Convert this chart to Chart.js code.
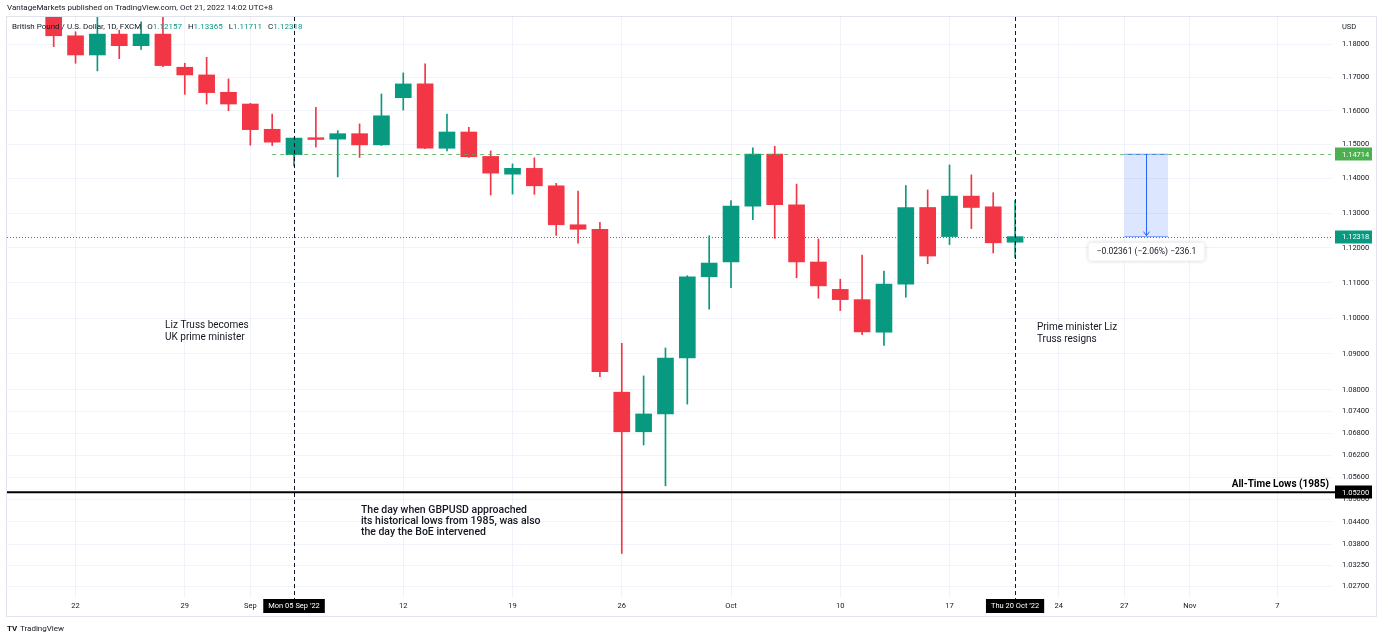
<!DOCTYPE html>
<html>
<head>
<meta charset="utf-8">
<script src="https://cdn.jsdelivr.net/npm/chart.js@4.4.0/dist/chart.umd.min.js"></script>
<style>
  html, body { margin: 0; padding: 0; background: #fff; }
  #wrap { width: 1381px; height: 640px; position: relative; }
</style>
</head>
<body>
<div id="wrap"><canvas id="chart"></canvas></div>
<script>
// GBPUSD 1D, FXCM - one entry per trading day, Aug 19 .. Oct 20 2022
const dates = ['Aug 19','Aug 22','Aug 23','Aug 24','Aug 25','Aug 26','Aug 29','Aug 30','Aug 31','Sep 01',
  'Sep 02','Sep 05','Sep 06','Sep 07','Sep 08','Sep 09','Sep 12','Sep 13','Sep 14','Sep 15',
  'Sep 16','Sep 19','Sep 20','Sep 21','Sep 22','Sep 23','Sep 26','Sep 27','Sep 28','Sep 29',
  'Sep 30','Oct 03','Oct 04','Oct 05','Oct 06','Oct 07','Oct 10','Oct 11','Oct 12','Oct 13',
  'Oct 14','Oct 17','Oct 18','Oct 19','Oct 20'];
const opens = [1.1935,1.1825,1.1767,1.1830,1.1795,1.1830,1.1730,1.1707,1.1655,1.1620,
  1.1545,1.1470,1.1520,1.1516,1.1532,1.1499,1.1639,1.1680,1.1489,1.1537,
  1.1465,1.1413,1.1430,1.1379,1.1266,1.1253,1.0793,1.0684,1.0733,1.0888,
  1.1117,1.1159,1.1320,1.1472,1.1324,1.1159,1.1081,1.1052,1.0960,1.1096,
  1.1316,1.1232,1.1349,1.1318,1.12157];
const highs = [1.1958,1.1837,1.1885,1.1842,1.1867,1.1900,1.1742,1.1760,1.1695,1.1622,
  1.1590,1.1520,1.1610,1.1541,1.1561,1.1650,1.1713,1.1740,1.1590,1.1551,
  1.1481,1.1443,1.1461,1.1386,1.1364,1.1273,1.0929,1.0838,1.0916,1.1120,
  1.1234,1.1336,1.1490,1.1495,1.1384,1.1225,1.1110,1.1179,1.1133,1.1380,
  1.1367,1.1440,1.1411,1.1359,1.13365];
const lows = [1.1792,1.1742,1.1719,1.1756,1.1784,1.1732,1.1649,1.1620,1.1600,1.1498,
  1.1497,1.1437,1.1492,1.1405,1.1462,1.1497,1.1602,1.1488,1.1481,1.1462,
  1.1352,1.1355,1.1354,1.1235,1.1213,1.0836,1.0356,1.0648,1.0537,1.0760,
  1.1025,1.1086,1.1281,1.1227,1.1114,1.1056,1.1021,1.0953,1.0923,1.1059,
  1.1154,1.1209,1.1255,1.1185,1.11711];
const closes = [1.1825,1.1767,1.1830,1.1795,1.1830,1.1735,1.1707,1.1654,1.1620,1.1544,
  1.1507,1.1519,1.1515,1.1532,1.1499,1.1585,1.1680,1.1489,1.1537,1.1464,
  1.1416,1.1430,1.1379,1.1266,1.1253,1.0850,1.0684,1.0733,1.0888,1.1117,
  1.1156,1.1320,1.1472,1.1324,1.1159,1.1091,1.1052,1.0961,1.1096,1.1316,
  1.1176,1.1349,1.1316,1.1214,1.12318];

const priceTicks = [1.027,1.0325,1.038,1.044,1.05,1.056,1.062,1.068,1.074,1.08,
  1.09,1.10,1.11,1.12,1.13,1.14,1.15,1.16,1.17,1.18];
// bar index of each time-axis label (future days continue the count)
const dayTicks = [1,6,9,11,16,21,26,31,36,41,46,49,52,56];
const dayTickLabels = ['22','29','Sep','','12','19','26','Oct','10','17','24','27','Nov','7'];

const lastPrice = 1.12318;
const refPrice = 1.14714;
const lowPrice = 1.052;

const UP = '#089981', DOWN = '#f23645', INK = '#131722';
const FONT = 'Roboto, "Noto Sans", sans-serif';

const colors = closes.map((c, i) => c >= opens[i] ? UP : DOWN);
const bodies = closes.map((c, i) => ({ x: i, y: [opens[i], c] }));
const wicks = closes.map((c, i) => ({ x: i, y: [lows[i], highs[i]] }));

function txt(ctx, s, x, y, font, color, align, base) {
  ctx.font = font;
  ctx.fillStyle = color;
  ctx.textAlign = align || 'left';
  ctx.textBaseline = base || 'middle';
  ctx.fillText(s, x, y);
}

const overlay = {
  id: 'overlay',
  beforeDraw(chart) {
    const ctx = chart.ctx;
    ctx.save();
    ctx.fillStyle = '#fff';
    ctx.fillRect(0, 0, chart.width, chart.height);
    ctx.restore();
  },
  afterDatasetsDraw(chart) {
    const ctx = chart.ctx, x = chart.scales.x, y = chart.scales.y, a = chart.chartArea;
    ctx.save();
    ctx.beginPath();
    ctx.rect(a.left, a.top, a.right - a.left, a.bottom - a.top);
    ctx.clip();

    // horizontal ref line
    let py = Math.round(y.getPixelForValue(refPrice)) + 0.5;
    ctx.strokeStyle = 'rgba(76,175,80,0.8)';
    ctx.lineWidth = 1;
    ctx.setLineDash([4, 4]);
    ctx.beginPath(); ctx.moveTo(x.getPixelForValue(10), py); ctx.lineTo(a.right, py); ctx.stroke();

    // last price line
    py = Math.round(y.getPixelForValue(lastPrice)) + 0.5;
    ctx.strokeStyle = UP;
    ctx.setLineDash([1, 2]);
    ctx.beginPath(); ctx.moveTo(a.left, py); ctx.lineTo(a.right, py); ctx.stroke();

    // measure box
    const x0 = x.getPixelForValue(49), x1 = x.getPixelForValue(51), xm = Math.round(x.getPixelForValue(50)) + 0.5;
    const ya = y.getPixelForValue(refPrice), yb = y.getPixelForValue(lastPrice);
    ctx.setLineDash([]);
    ctx.fillStyle = 'rgba(41,98,255,0.16)';
    ctx.fillRect(x0, ya, x1 - x0, yb - ya);
    ctx.strokeStyle = 'rgba(41,98,255,0.6)';
    ctx.beginPath(); ctx.moveTo(x0, ya); ctx.lineTo(x1, ya); ctx.moveTo(x0, yb); ctx.lineTo(x1, yb); ctx.stroke();
    ctx.strokeStyle = '#2962ff';
    ctx.beginPath(); ctx.moveTo(xm, ya); ctx.lineTo(xm, yb - 1);
    ctx.moveTo(xm - 3, yb - 5); ctx.lineTo(xm, yb - 1); ctx.lineTo(xm + 3, yb - 5); ctx.stroke();

    // notes
    let nx = x.getPixelForValue(5.1), ny = y.getPixelForValue(1.0980);
    txt(ctx, 'Liz Truss becomes', nx, ny, '10px ' + FONT, INK);
    txt(ctx, 'UK prime minister', nx, ny + 12, '10px ' + FONT, INK);
    nx = x.getPixelForValue(45); ny = y.getPixelForValue(1.0974);
    txt(ctx, 'Prime minister Liz', nx, ny, '10px ' + FONT, INK);
    txt(ctx, 'Truss resigns', nx, ny + 12, '10px ' + FONT, INK);
    nx = x.getPixelForValue(14.06); ny = y.getPixelForValue(1.0472);
    txt(ctx, 'The day when GBPUSD approached', nx, ny, '500 10.5px ' + FONT, INK);
    txt(ctx, 'its historical lows from 1985, was also', nx, ny + 11, '500 10.5px ' + FONT, INK);
    txt(ctx, 'the day the BoE intervened', nx, ny + 22, '500 10.5px ' + FONT, INK);
    ctx.restore();

    ctx.save();
    // all time low line
    py = y.getPixelForValue(lowPrice);
    ctx.strokeStyle = '#000';
    ctx.lineWidth = 2;
    ctx.beginPath(); ctx.moveTo(a.left, py); ctx.lineTo(a.right + 4, py); ctx.stroke();
    txt(ctx, 'All-Time Lows (1985)', a.right - 2, py - 8, 'bold 10px ' + FONT, '#000', 'right');

    // vertical markers
    ctx.lineWidth = 1;
    ctx.strokeStyle = INK;
    ctx.setLineDash([4, 3]);
    [11, 44].forEach(i => {
      const px = Math.round(x.getPixelForValue(i)) + 0.5;
      ctx.beginPath(); ctx.moveTo(px, a.top); ctx.lineTo(px, a.bottom + 2); ctx.stroke();
    });
    ctx.setLineDash([]);

    // measure label
    const lw = 116, lh = 18, lx = xm - lw / 2, ly = yb + 6;
    ctx.shadowColor = 'rgba(0,0,0,0.18)';
    ctx.shadowBlur = 4;
    ctx.fillStyle = '#fff';
    ctx.beginPath(); ctx.roundRect(lx, ly, lw, lh, 3); ctx.fill();
    ctx.shadowColor = 'transparent';
    txt(ctx, '\u22120.02361 (\u22122.06%) \u2212236.1', xm, ly + lh / 2, '8.5px ' + FONT, INK, 'center');
    ctx.restore();
  },
  afterDraw(chart) {
    const ctx = chart.ctx, x = chart.scales.x, y = chart.scales.y, a = chart.chartArea;
    ctx.save();
    // price axis boxes
    [[refPrice, '#4caf50'], [lastPrice, UP], [lowPrice, '#000']].forEach(([v, bg]) => {
      const py = y.getPixelForValue(v);
      ctx.fillStyle = bg;
      ctx.fillRect(a.right + 4, Math.round(py) - 6.5, 37, 13);
      txt(ctx, v.toFixed(5), a.right + 11, py + 0.5, '7.5px ' + FONT, '#fff');
    });
    // time axis boxes
    [[11, 'Mon 05 Sep \u201922'], [44, 'Thu 20 Oct \u201922']].forEach(([i, s]) => {
      const px = x.getPixelForValue(i);
      ctx.font = '7.5px ' + FONT;
      const w = ctx.measureText(s).width + 10;
      ctx.fillStyle = '#000';
      ctx.fillRect(px - w / 2, a.bottom + 1, w, 14);
      txt(ctx, s, px, a.bottom + 8, '7.5px ' + FONT, '#fff', 'center');
    });

    // frame
    ctx.strokeStyle = '#e0e3eb';
    ctx.lineWidth = 1;
    ctx.strokeRect(6.5, 16.5, 1370, 600);

    // header + legend
    txt(ctx, 'VantageMarkets published on TradingView.com, Oct 21, 2022 14:02 UTC+8', 7, 8, '8px ' + FONT, INK);
    txt(ctx, 'USD', a.right + 11, 27, '7.5px ' + FONT, INK);
    let lx = 12;
    const lf = '8px ' + FONT;
    const parts = [['British Pound / U.S. Dollar, 1D, FXCM', INK, 6],
      ['O', INK, 0], [opens[44].toFixed(5), UP, 6],
      ['H', INK, 0], [highs[44].toFixed(5), UP, 6],
      ['L', INK, 0], [lows[44].toFixed(5), UP, 6],
      ['C', INK, 0], [closes[44].toFixed(5), UP, 0]];
    parts.forEach(([s, c, gap]) => {
      txt(ctx, s, lx, 27, lf, c);
      lx += ctx.measureText(s).width + gap;
    });

    // footer
    txt(ctx, 'TV', 7, 629, 'bold 8px ' + FONT, INK);
    txt(ctx, 'TradingView', 20, 629, '8px ' + FONT, INK);
    ctx.restore();
  }
};

new Chart(document.getElementById('chart'), {
  type: 'bar',
  data: {
    datasets: [
      { data: bodies, backgroundColor: colors, barThickness: 16, grouped: false, minBarLength: 1 },
      { data: wicks, backgroundColor: colors, barThickness: 1, grouped: false }
    ]
  },
  options: {
    responsive: true,
    maintainAspectRatio: false,
    animation: false,
    layout: { padding: { left: 7, top: 17, right: 6, bottom: 26 } },
    plugins: { legend: { display: false }, tooltip: { enabled: false } },
    scales: {
      x: {
        type: 'linear',
        offset: false,
        min: -2.137,
        max: 58.46,
        afterBuildTicks: s => { s.ticks = dayTicks.map(v => ({ value: v })); },
        afterFit: s => { s.height = 16; },
        grid: { color: '#f0f3fa', drawTicks: false, offset: false },
        border: { display: false },
        ticks: {
          autoSkip: false, maxRotation: 0, padding: 4, color: INK,
          font: { family: FONT, size: 7.5 },
          callback: v => dayTickLabels[dayTicks.indexOf(v)]
        }
      },
      y: {
        type: 'logarithmic',
        position: 'right',
        min: 1.02385,
        max: 1.1882,
        afterBuildTicks: s => { s.ticks = priceTicks.map(v => ({ value: v })); },
        afterFit: s => { s.width = 44; },
        grid: { color: '#f0f3fa', drawTicks: false },
        border: { display: false },
        ticks: {
          padding: 11, color: INK,
          font: { family: FONT, size: 7.5 },
          callback: v => Number(v).toFixed(5)
        }
      }
    }
  },
  plugins: [overlay]
});
</script>
</body>
</html>
